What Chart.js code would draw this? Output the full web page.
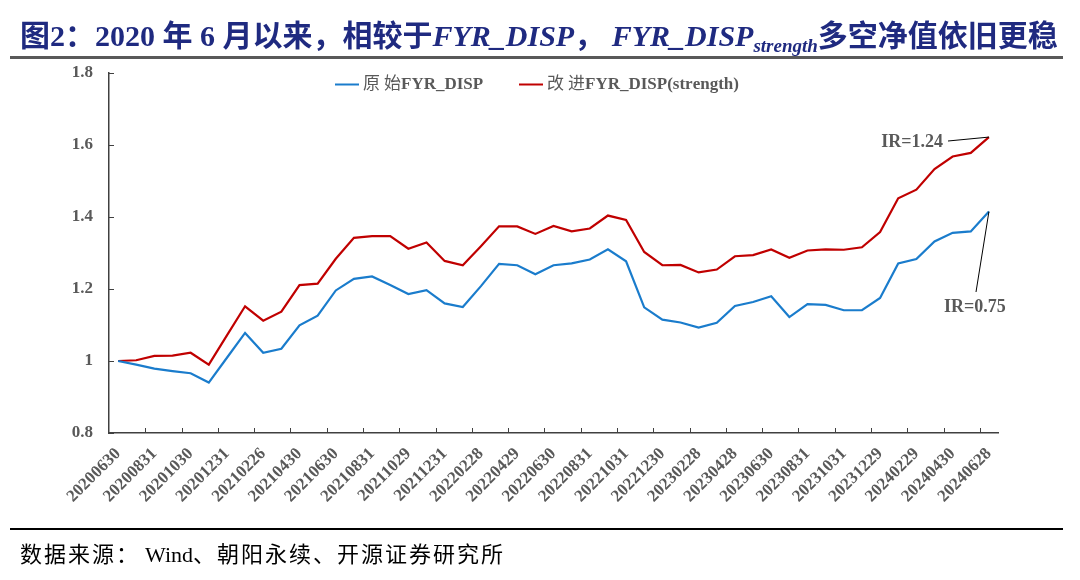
<!DOCTYPE html>
<html>
<head>
<meta charset="utf-8">
<script src="https://cdn.jsdelivr.net/npm/chart.js@4/dist/chart.umd.min.js"></script>
<style>
  html, body { margin: 0; padding: 0; background: #fff; }
  #wrap { position: relative; width: 1080px; height: 580px; overflow: hidden; }
  #title { position: absolute; left: 20px; top: 11px; white-space: nowrap;
    font: bold 30px "Liberation Serif", "Noto Sans CJK SC", serif; color: #1f2a80; }
  #title i { font-style: italic; }
  #title sub { font-size: 19px; vertical-align: -6px; }
  .rule { position: absolute; left: 10px; width: 1053px; }
  #rule1 { top: 56px; height: 3px; background: #595959; }
  #rule2 { top: 528px; height: 2px; background: #000; }
  #src { position: absolute; left: 20px; top: 536px; white-space: nowrap;
    font: 22px "Liberation Serif", "Noto Sans CJK SC", serif; color: #000; }
  #src .cjk { letter-spacing: 2px; }
  #src .gap { margin-right: 5px; }
  canvas { position: absolute; left: 0; top: 0; }
</style>
</head>
<body>
<div id="wrap">
  <canvas id="chart" width="1080" height="580"></canvas>
  <div id="title">图2：2020 年 6 月以来，相较于<i>FYR_DISP</i>， <i>FYR_DISP<sub>strength</sub></i>多空净值依旧更稳</div>
  <div class="rule" id="rule1"></div>
  <div class="rule" id="rule2"></div>
  <div id="src"><span class="cjk gap">数据来源：</span>Wind<span class="cjk">、朝阳永续、开源证券研究所</span></div>
</div>
<script>
// tick labels (every other month is labelled)
const tickLabels = ['20200630','20200831','20201030','20201231','20210226','20210430','20210630',
  '20210831','20211029','20211231','20220228','20220429','20220630','20220831','20221031',
  '20221230','20230228','20230428','20230630','20230831','20231031','20231229','20240229',
  '20240430','20240628'];

// monthly net values
const originalValues = [1.000,0.990,0.979,0.972,0.966,0.940,1.009,1.078,1.023,1.034,1.099,1.126,1.196,1.228,1.235,
  1.211,1.186,1.197,1.160,1.150,1.208,1.270,1.266,1.241,1.266,1.271,1.282,1.310,1.277,1.149,1.115,1.107,1.093,1.106,
  1.153,1.164,1.180,1.122,1.158,1.156,1.141,1.141,1.175,1.271,1.283,1.332,1.356,1.360,1.415];
const strengthValues = [1.000,1.002,1.014,1.015,1.023,0.990,1.071,1.152,1.112,1.137,1.211,1.215,1.284,1.342,1.347,
  1.347,1.312,1.329,1.278,1.266,1.319,1.374,1.374,1.353,1.375,1.360,1.368,1.404,1.392,1.303,1.266,1.267,1.246,1.254,
  1.291,1.294,1.310,1.287,1.307,1.310,1.309,1.316,1.358,1.452,1.476,1.533,1.568,1.578,1.622];

const seriesNames = ['原始FYR_DISP', '改进FYR_DISP(strength)'];
const irLabels = ['IR=0.75', 'IR=1.24'];

const labels = originalValues.map((_, i) => (i % 2 ? '' : tickLabels[i / 2]));

const BLUE = '#1a7ccc';
const RED = '#c00000';
const GREY = '#595959';
const AXIS = '#404040';
const serif = '"Liberation Serif", "Noto Sans CJK SC", serif';

const isCJK = ch => /[\u4e00-\u9fff]/.test(ch || '');

// legend text: CJK chars a bit spaced out and lighter, latin part bold
function drawLegendText(ctx, text, x, y){
  const chars = [...text];
  let cx = x;
  chars.forEach((ch, i) => {
    const cjk = isCJK(ch);
    ctx.font = (cjk ? '' : 'bold ') + '17px ' + serif;
    ctx.fillText(ch, cx, y);
    cx += ctx.measureText(ch).width + (cjk && isCJK(chars[i + 1]) ? 4 : 0);
  });
}

// draws legend, inward tick marks and IR call-outs
const decor = {
  id: 'decor',
  afterDraw(chart){
    const { ctx, chartArea: a, scales: { x, y } } = chart;
    ctx.save();
    ctx.strokeStyle = AXIS;
    ctx.lineWidth = 1;
    // x tick marks every two categories, pointing up
    for (let k = 2; k < labels.length; k += 2){
      const px = Math.round((x.getPixelForValue(k - 1) + x.getPixelForValue(k)) / 2) + 0.5;
      ctx.beginPath(); ctx.moveTo(px, a.bottom); ctx.lineTo(px, a.bottom - 5); ctx.stroke();
    }
    // y tick marks pointing right
    y.ticks.forEach(t => {
      const py = Math.round(y.getPixelForValue(t.value)) + 0.5;
      ctx.beginPath(); ctx.moveTo(a.left, py); ctx.lineTo(a.left + 5, py); ctx.stroke();
    });

    // legend
    ctx.textBaseline = 'middle';
    ctx.fillStyle = GREY;
    const legendItems = [{ x: 335, color: BLUE, text: seriesNames[0] }, { x: 519, color: RED, text: seriesNames[1] }];
    legendItems.forEach(it => {
      ctx.strokeStyle = it.color; ctx.lineWidth = 2;
      ctx.beginPath(); ctx.moveTo(it.x, 84.5); ctx.lineTo(it.x + 24, 84.5); ctx.stroke();
      drawLegendText(ctx, it.text, it.x + 28, 85);
    });

    // IR call-outs
    const pBlue = chart.getDatasetMeta(0).data[originalValues.length - 1];
    const pRed = chart.getDatasetMeta(1).data[strengthValues.length - 1];
    ctx.strokeStyle = '#000'; ctx.lineWidth = 1;
    ctx.beginPath(); ctx.moveTo(948, 141); ctx.lineTo(pRed.x, pRed.y); ctx.stroke();
    ctx.beginPath(); ctx.moveTo(976, 292); ctx.lineTo(pBlue.x, pBlue.y); ctx.stroke();
    ctx.font = 'bold 18px ' + serif;
    ctx.fillStyle = GREY;
    ctx.textAlign = 'right';
    ctx.fillText(irLabels[1], 943, 142);
    ctx.textAlign = 'left';
    ctx.fillText(irLabels[0], 944, 307);
    ctx.restore();
  }
};

new Chart(document.getElementById('chart').getContext('2d'), {
  type: 'line',
  data: {
    labels,
    datasets: [
      { label: seriesNames[0], data: originalValues, borderColor: BLUE, borderWidth: 2.2, pointRadius: 0, tension: 0 },
      { label: seriesNames[1], data: strengthValues, borderColor: RED, borderWidth: 2.2, pointRadius: 0, tension: 0 }
    ]
  },
  options: {
    responsive: false,
    animation: false,
    layout: { padding: { top: 73, right: 82, left: 0, bottom: 0 } },
    plugins: { legend: { display: false }, tooltip: { enabled: false } },
    scales: {
      x: {
        offset: true,
        grid: { display: false },
        border: { display: true, color: AXIS, width: 1.5 },
        ticks: { autoSkip: false, minRotation: 45, maxRotation: 45, padding: 3, color: GREY,
          font: { family: serif, size: 17, weight: 'bold' } },
        afterFit(s){ s.height = 147; }
      },
      y: {
        min: 0.8, max: 1.8,
        grid: { display: false },
        border: { display: true, color: AXIS, width: 1.5 },
        ticks: { stepSize: 0.2, padding: 8, color: GREY, font: { family: serif, size: 17, weight: 'bold' },
          callback: v => String(Number(v.toFixed(1))) },
        afterFit(s){ s.width = 109; }
      }
    }
  },
  plugins: [decor]
});
</script>
</body>
</html>
